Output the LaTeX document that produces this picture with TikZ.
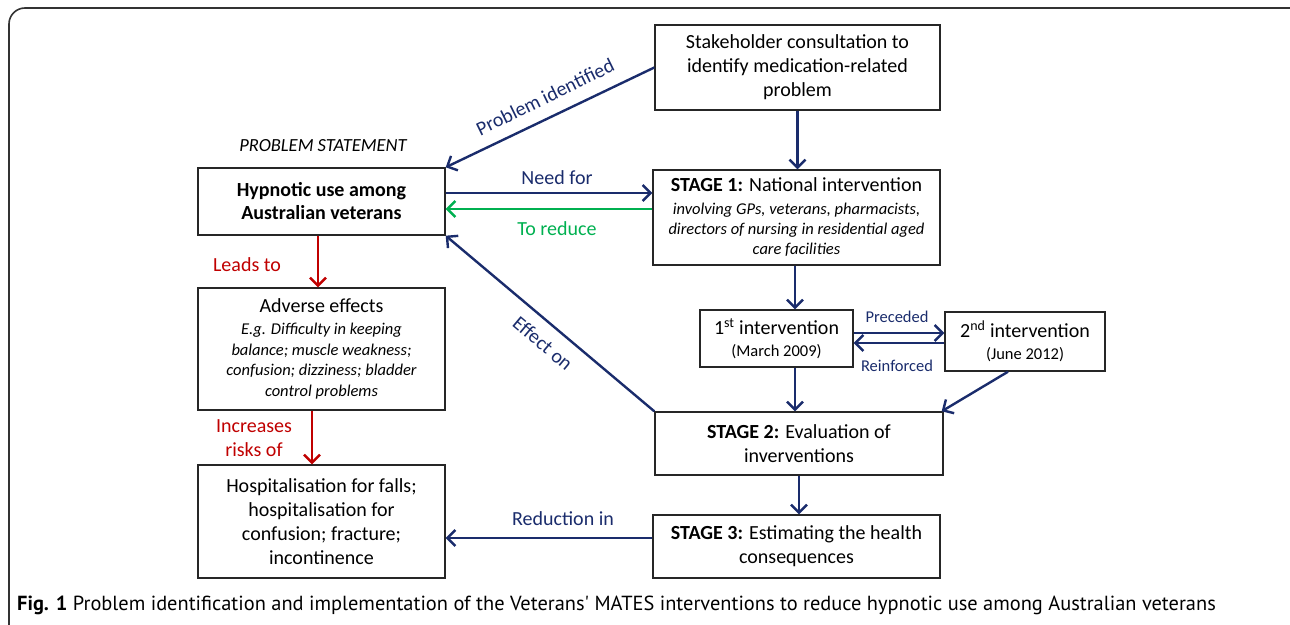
\documentclass[tikz,border=0pt]{standalone}
\usepackage{fontspec}
\setmainfont{Carlito}
\newfontfamily\capfont{PT Sans}
\usetikzlibrary{arrows.meta,calc}
\definecolor{navy}{RGB}{26,44,108}
\definecolor{leafgreen}{RGB}{0,176,80}
\definecolor{alertred}{RGB}{192,0,0}
\tikzset{
  box/.style={draw=black!85, line width=1.4pt, align=center, inner sep=0pt,
    font=\fontsize{20}{24}\selectfont},
  arr/.style={line width=2.4pt, -{Straight Barb[length=8pt,width=16pt]}},
  lbl/.style={inner sep=0pt, align=center, font=\fontsize{20}{24}\selectfont}
}
\newcommand{\sm}{\fontsize{16.5}{20}\selectfont}

\begin{document}
\begin{tikzpicture}[x=1pt,y=-1pt]
%%%%% START %%%%%
\useasboundingbox (0,0) rectangle (1290,624);
\clip (0,0) rectangle (1290,624);
\draw[line width=1.6pt, black!80, rounded corners=16pt] (9,8) rectangle (1340,660);

% boxes
\node[box, minimum width=285pt, minimum height=85pt] (stake) at (797.5,67.5)
  {Stakeholder consultation to\\identify medication-related\\problem};
\node[box, minimum width=287pt, minimum height=95pt, font=\sm] (st1) at (796.5,217.5)
  {{\fontsize{20}{24}\selectfont\textbf{STAGE 1:} National intervention}\\[3pt]
   \itshape involving GPs, veterans, pharmacists,\\
   \itshape directors of nursing in residential aged\\
   \itshape care facilities};
\node[box, minimum width=247pt, minimum height=67pt, font=\fontsize{20}{23}\selectfont\bfseries] (hyp) at (321.5,201.5)
  {Hypnotic use among\\Australian veterans};
\node[box, minimum width=247pt, minimum height=122pt, font=\fontsize{16.5}{20.5}\selectfont] (adv) at (321.5,349)
  {{\fontsize{20}{24}\selectfont Adverse effects}\\[1.5pt]
   \itshape E.g. Difficulty in keeping\\
   \itshape balance; muscle weakness;\\
   \itshape confusion; dizziness; bladder\\
   \itshape control problems};
\node[box, minimum width=247pt, minimum height=113pt] (hosp) at (321.5,521.5)
  {Hospitalisation for falls;\\hospitalisation for\\confusion; fracture;\\incontinence};
\node[box, minimum width=153pt, minimum height=57pt, font=\fontsize{20}{22}\selectfont] (first) at (776.5,338.5)
  {1\textsuperscript{st} intervention\\{\sm (March 2009)}};
\node[box, minimum width=160pt, minimum height=59pt, font=\fontsize{20}{22}\selectfont] (second) at (1025,341.5)
  {2\textsuperscript{nd} intervention\\{\sm (June 2012)}};
\node[box, minimum width=288pt, minimum height=63pt] (st2) at (799,443.5)
  {\textbf{STAGE 2:} Evaluation of\\inverventions};
\node[box, minimum width=287pt, minimum height=63pt] (st3) at (796.5,546.5)
  {\textbf{STAGE 3:} Estimating the health\\consequences};

\node[lbl, font=\fontsize{18.5}{22}\selectfont\itshape] (ps) at (323,146) {PROBLEM STATEMENT};

% connectors
\draw[arr, navy] (stake.south) -- (stake.south |- st1.north);
\draw[arr, navy] (stake.west) -- (hyp.north east);
\draw[arr, navy] ([yshift=8.5pt]hyp.east) -- ([yshift=8.5pt]hyp.east -| st1.west);
\draw[arr, leafgreen] ([yshift=-7.5pt]hyp.east -| st1.west) -- ([yshift=-7.5pt]hyp.east);
\draw[arr, navy] (st2.north west) -- (hyp.south east);
\draw[arr, alertred] ([xshift=-3.5pt]hyp.south) -- ([xshift=-3.5pt]hyp.south |- adv.north);
\draw[arr, alertred] ([xshift=-9.5pt]adv.south) -- ([xshift=-9.5pt]adv.south |- hosp.north);
\draw[arr, navy] ([xshift=18.5pt]first.north |- st1.south) -- ([xshift=18.5pt]first.north);
\draw[arr, navy] ([yshift=5.5pt]first.east) -- ([yshift=5.5pt]first.east -| second.west);
\draw[arr, navy] ([yshift=-4.5pt]first.east -| second.west) -- ([yshift=-4.5pt]first.east);
\draw[arr, navy] ([xshift=18.5pt]first.south) -- ([xshift=18.5pt]first.south |- st2.north);
\draw[arr, navy] ([xshift=-17pt]second.south) -- ([xshift=-2pt]st2.north east);
\draw[arr, navy] (st2.south) -- (st2.south |- st3.north);
\draw[arr, navy] ([yshift=8.5pt]st3.west) -- ([yshift=8.5pt]st3.west -| hosp.east);

% labels
\node[lbl, navy, rotate=26] (lpi) at (545,97) {Problem identified};
\node[lbl, navy, rotate=-40] (leo) at (543,343.5) {Effect on};
\node[lbl, navy] (lnf) at (557,178) {Need for};
\node[lbl, leafgreen] (ltr) at (557,229) {To reduce};
\node[lbl, alertred] (llt) at (247,265) {Leads to};
\node[lbl, alertred] (lir) at (254,438) {Increases\\risks of};
\node[lbl, navy, font=\fontsize{16.5}{20}\selectfont] (lpr) at (897,317) {Preceded};
\node[lbl, navy, font=\fontsize{16.5}{20}\selectfont] (lre) at (897,366) {Reinforced};
\node[lbl, navy] (lri) at (563,519) {Reduction in};

% caption
\node[anchor=west, inner sep=0pt, font=\capfont\fontsize{20.4}{24}\selectfont] (cap) at (17,605)
  {\textbf{Fig. 1} Problem identification and implementation of the Veterans' MATES interventions to reduce hypnotic use among Australian veterans};
%%%%% END %%%%%
\end{tikzpicture}
\end{document}
